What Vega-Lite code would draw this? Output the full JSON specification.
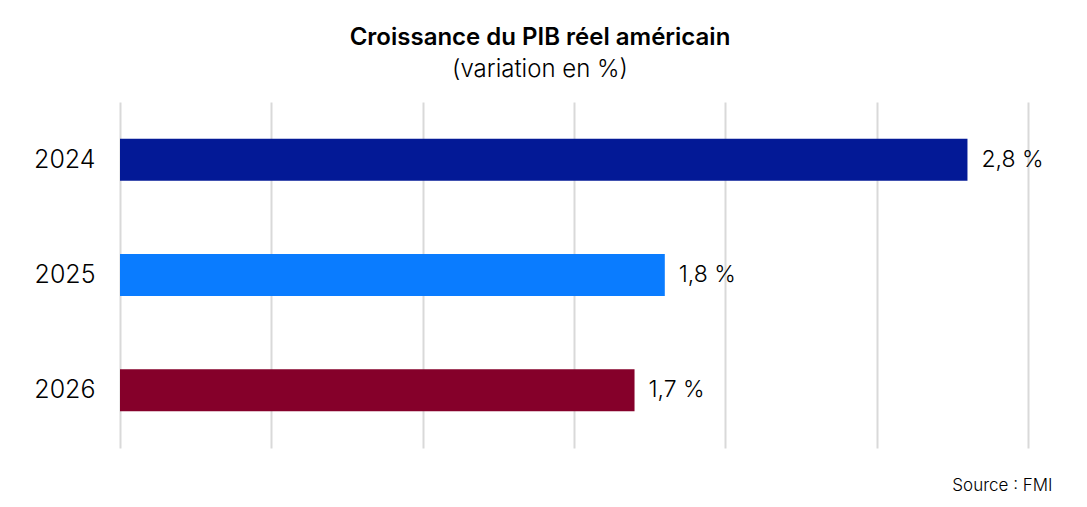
{
  "$schema": "https://vega.github.io/schema/vega-lite/v6.json",
  "autosize": "none",
  "width": 908,
  "height": 346,
  "padding": {"left": 120, "top": 102, "right": 59, "bottom": 59},
  "background": "white",
  "title": {
    "text": "Croissance du PIB réel américain",
    "subtitle": "(variation en %)",
    "anchor": "middle",
    "dx": -34,
    "offset": 20,
    "font": "Inter",
    "fontSize": 24,
    "fontWeight": 600,
    "color": "#000000",
    "subtitleFont": "Inter",
    "subtitleFontSize": 24,
    "subtitleFontWeight": 300,
    "subtitleColor": "#000000",
    "subtitlePadding": 8
  },
  "data": {
    "values": [
      {"annee": "2024", "croissance": 2.8, "label": "2,8 %"},
      {"annee": "2025", "croissance": 1.8, "label": "1,8 %"},
      {"annee": "2026", "croissance": 1.7, "label": "1,7 %"}
    ]
  },
  "encoding": {
    "y": {
      "field": "annee",
      "type": "nominal",
      "sort": null,
      "scale": {"paddingInner": 0.636, "paddingOuter": 0.318},
      "axis": {
        "title": null,
        "domain": false,
        "ticks": false,
        "labelFont": "Inter",
        "labelFontSize": 25,
        "labelFontWeight": 300,
        "labelColor": "#000000",
        "labelPadding": 25
      }
    },
    "x": {
      "field": "croissance",
      "type": "quantitative",
      "scale": {"domain": [0, 3], "nice": false},
      "axis": {
        "values": [0, 0.5, 1, 1.5, 2, 2.5, 3],
        "labels": false,
        "ticks": false,
        "domain": false,
        "grid": true,
        "gridColor": "#d9d9d9",
        "gridWidth": 2,
        "title": "Source : FMI",
        "titleFont": "Inter",
        "titleFontSize": 17,
        "titleFontWeight": 300,
        "titleColor": "#000000",
        "titleAnchor": "end",
        "titleAlign": "right",
        "titleBaseline": "alphabetic",
        "titleX": 932,
        "titleY": 42
      }
    }
  },
  "layer": [
    {
      "mark": {"type": "bar"},
      "encoding": {
        "color": {
          "field": "annee",
          "type": "nominal",
          "scale": {"domain": ["2024", "2025", "2026"], "range": ["#031996", "#0a7cff", "#85002a"]},
          "legend": null
        }
      }
    },
    {
      "mark": {"type": "text", "align": "left", "baseline": "middle", "dx": 14, "font": "Inter", "fontSize": 23, "fontWeight": 300, "color": "#000000"},
      "encoding": {"text": {"field": "label"}}
    }
  ],
  "config": {"view": {"stroke": null}}
}
